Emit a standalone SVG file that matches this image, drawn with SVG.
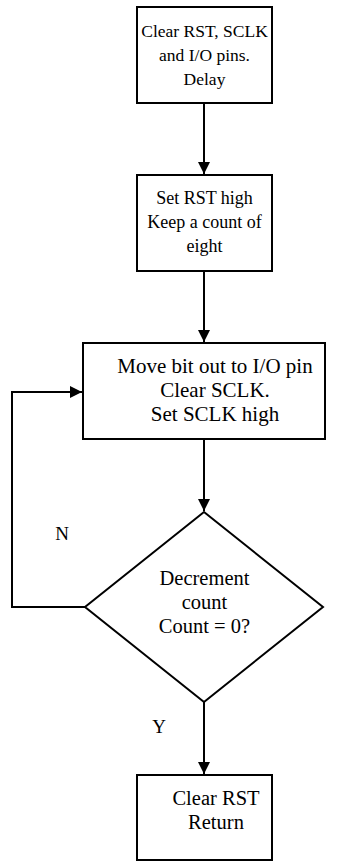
<svg xmlns="http://www.w3.org/2000/svg" width="344" height="868" viewBox="0 0 344 868">
<defs>
<marker id="arr" markerWidth="12" markerHeight="12" refX="12" refY="6" orient="auto" markerUnits="userSpaceOnUse">
<path d="M0,0 L12,6 L0,12 Z" fill="#000"/>
</marker>
<style>
.box{fill:#fff;stroke:#000;stroke-width:2}
.t{font-family:"Liberation Serif","Times New Roman",serif;font-size:17.5px;fill:#000;text-anchor:middle}
.b{font-size:20.5px}
.c{fill:none;stroke:#000;stroke-width:2}
</style>
</defs>
<rect width="344" height="868" fill="#fff"/>
<g id="connectors">
<line class="c" x1="204" y1="103" x2="204" y2="174" marker-end="url(#arr)"/>
<line class="c" x1="204" y1="271" x2="204" y2="342" marker-end="url(#arr)"/>
<line class="c" x1="204" y1="439" x2="204" y2="511" marker-end="url(#arr)"/>
<line class="c" x1="204" y1="702" x2="204" y2="774" marker-end="url(#arr)"/>
<polyline class="c" points="85,607 12,607 12,392 82,392" marker-end="url(#arr)"/>
<text class="t" x="62" y="540" style="font-size:19px">N</text>
<text class="t" x="159" y="733" style="font-size:19px">Y</text>
</g>
<g id="n1">
<rect class="box" x="137" y="7" width="135" height="96"/>
<text class="t" x="204.5" y="37">Clear RST, SCLK</text>
<text class="t" x="204.5" y="61">and I/O pins.</text>
<text class="t" x="204.5" y="85">Delay</text>
</g>
<g id="n2">
<rect class="box" x="137" y="175" width="135" height="96"/>
<text class="t" x="204.5" y="204" style="font-size:18px">Set RST high</text>
<text class="t" x="204.5" y="228" style="font-size:18px">Keep a count of</text>
<text class="t" x="204.5" y="252" style="font-size:18px">eight</text>
</g>
<g id="n3">
<rect class="box" x="83" y="343" width="242" height="96"/>
<text class="t b" x="215" y="373" style="font-size:21px">Move bit out to I/O pin</text>
<text class="t b" x="215" y="397" style="font-size:21px">Clear SCLK.</text>
<text class="t b" x="215" y="421" style="font-size:21px">Set SCLK high</text>
</g>
<g id="n4">
<polygon class="box" points="204,512 323,607 204,702 85,607"/>
<text class="t b" x="204.5" y="585">Decrement</text>
<text class="t b" x="204.5" y="609">count</text>
<text class="t b" x="204.5" y="633">Count = 0?</text>
</g>
<g id="n5">
<rect class="box" x="137" y="775" width="135" height="85"/>
<text class="t b" x="216" y="805">Clear RST</text>
<text class="t b" x="216" y="829">Return</text>
</g>
</svg>
